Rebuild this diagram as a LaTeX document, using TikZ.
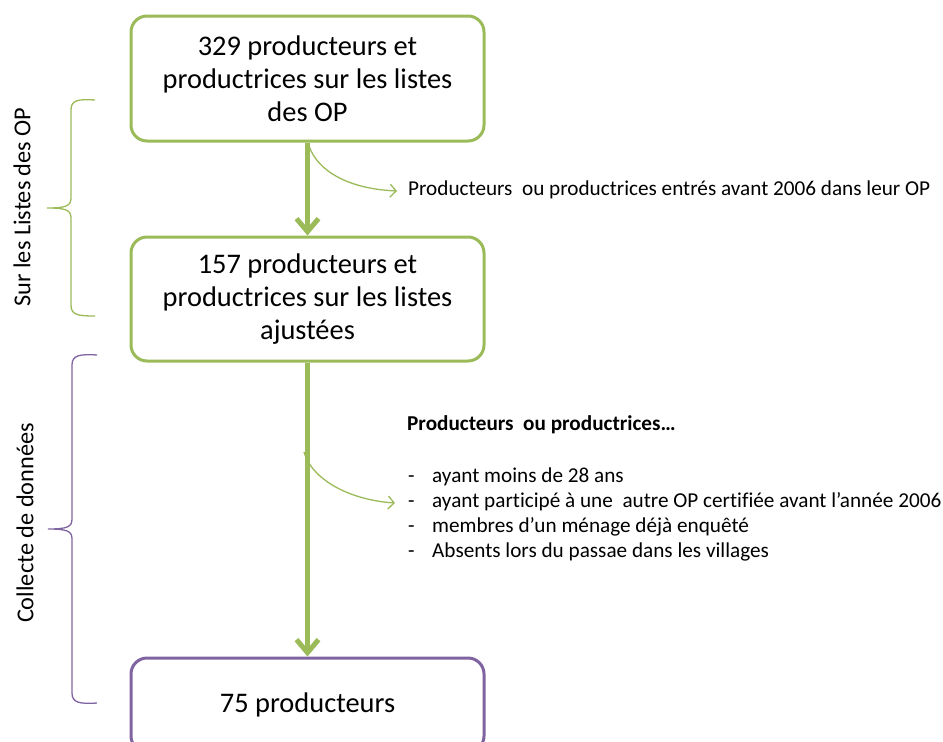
\documentclass[tikz,border=0pt]{standalone}
\usepackage{fontspec}
\setmainfont{Carlito}[Ligatures=NoCommon]
\usetikzlibrary{arrows.meta}
\definecolor{ogreen}{HTML}{9BBB59}
\definecolor{opurple}{HTML}{8064A2}
\tikzset{
  stagebox/.style={draw=#1, line width=3pt, rounded corners=16pt, minimum width=353pt, inner sep=0pt, align=center, font=\fontsize{28.4}{33}\selectfont, fill=white},
  bigarrow/.style={draw=ogreen, line width=5pt, -{Straight Barb[length=13pt, width=22pt, line width=5pt]}},
  thinarrow/.style={draw=ogreen, line width=1.3pt, -{Straight Barb[length=6pt, width=13pt, line width=1.3pt]}},
  brc/.style={draw=#1, line width=1.3pt},
  small/.style={font=\fontsize{21.2}{25}\selectfont, inner sep=0pt, anchor=west},
  side/.style={font=\fontsize{24.3}{28}\selectfont, rotate=90, inner sep=0pt}
}
\begin{document}
\begin{tikzpicture}[x=1pt, y=-1pt]
\useasboundingbox (0,0) rectangle (943,742);
\node[stagebox=ogreen, minimum height=125pt] (b1) at (307.5,78.5) {329 producteurs et\\productrices sur les listes\\des OP};
\node[stagebox=ogreen, minimum height=124pt] (b2) at (307.5,299) {157 producteurs et\\productrices sur les listes\\ajustées};
\node[stagebox=opurple, minimum height=94pt] (b3) at (307.5,705) {75 producteurs};
\draw[bigarrow] (b1.south) -- (b2.north);
\draw[bigarrow] (b2.south) -- (b3.north);
% annotations
\node[small] (n1) at (408,190) {Producteurs\ \ ou productrices entrés avant 2006 dans leur OP};
\node[small, font=\fontsize{21.2}{25}\selectfont\bfseries] (t0) at (407,425) {Producteurs\ \ ou productrices…};
\node[small] (i1) at (408,477) {\makebox[24pt][l]{-}ayant moins de 28 ans};
\node[small] (i2) at (408,502) {\makebox[24pt][l]{-}ayant participé à une\ \ autre OP certifiée avant l’année 2006};
\node[small] (i3) at (408,527) {\makebox[24pt][l]{-}membres d’un ménage déjà enquêté};
\node[small] (i4) at (408,552) {\makebox[24pt][l]{-}Absents lors du passae dans les villages};
\coordinate (s1) at (309,146);
\coordinate (e1) at (397,191);
\coordinate (s2) at (304,452);
\coordinate (e2) at (395,503);
\draw[thinarrow] (s1) .. controls (318,172) and (350,189) .. (e1);
\draw[thinarrow] (s2) .. controls (312,480) and (350,500) .. (e2);
% braces
\draw[brc=ogreen] (95,100) .. controls (78,99) and (71,100) .. (71,110) -- (71,198) .. controls (71,206) and (66,208) .. (47,208) .. controls (66,208) and (71,210) .. (71,218) -- (71,305) .. controls (71,315) and (78,316) .. (95,316);
\draw[brc=opurple] (97,355) .. controls (80,354) and (72,355) .. (72,365) -- (72,519) .. controls (72,527) and (67,529) .. (48,529) .. controls (67,529) and (72,531) .. (72,539) -- (72,693) .. controls (72,703) and (80,704) .. (97,703);
\node[side] (l1) at (22,207) {Sur les Listes des OP};
\node[side] (l2) at (25,523) {Collecte de données};
\end{tikzpicture}
\end{document}
